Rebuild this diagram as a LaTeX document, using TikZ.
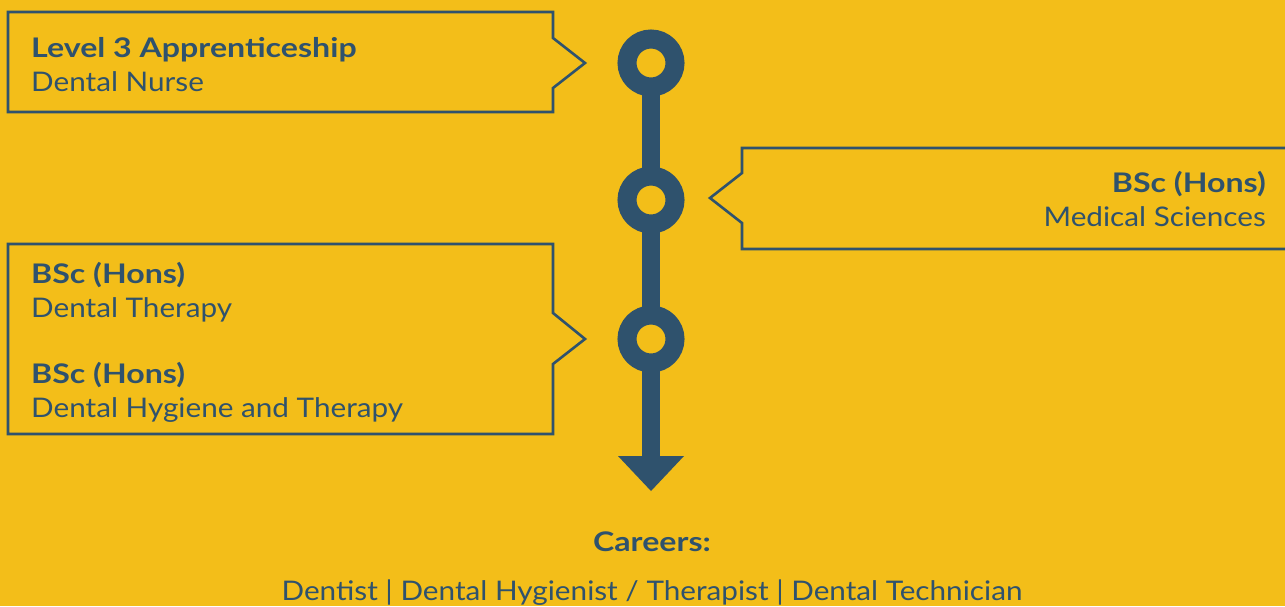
\documentclass[tikz,border=0pt]{standalone}
\usepackage{fontspec}
\setmainfont{Lato}[FakeStretch=1.1,BoldFeatures={FakeStretch=1.19}]
\definecolor{bg}{HTML}{F3BE19}
\definecolor{ink}{HTML}{2F526D}
\begin{document}
\begin{tikzpicture}[x=1pt,y=-1pt,
  boxline/.style={draw=ink,line width=2.6pt},
  ttl/.style={text=ink,font=\fontsize{27}{32}\selectfont\bfseries,inner sep=0pt},
  sub/.style={text=ink,font=\fontsize{27}{32}\selectfont,inner sep=0pt},
  ring/.style={draw=ink,line width=19pt,fill=bg},
  stem/.style={draw=ink,line width=18pt}]
\fill[bg] (0,0) rectangle (1285,606);
\useasboundingbox (0,0) rectangle (1285,606);
% boxes
\draw[boxline] (8,12) -- (553,12) -- (553,38) -- (585,63) -- (553,88) -- (553,112) -- (8,112) -- cycle;
\draw[boxline] (1290,148) -- (742,148) -- (742,173) -- (710,198) -- (742,223) -- (742,249) -- (1290,249);
\draw[boxline] (8,244) -- (553,244) -- (553,313) -- (585,339) -- (553,364) -- (553,434) -- (8,434) -- cycle;
% timeline
\coordinate (c1) at (651,63);
\coordinate (c2) at (651,200);
\coordinate (c3) at (651,339);
\coordinate (tip) at (651,491);
\draw[stem] (c1) -- (651,458);
\fill[ink] (618,456) -- (684,456) -- (tip) -- cycle;
\foreach \c in {c1,c2,c3} \draw[ring] (\c) circle (24pt);
% texts
\node[ttl,anchor=base west] (t1) at (31,57) {Level 3 Apprenticeship};
\node[sub,anchor=base west] (s1) at (31,91) {Dental Nurse};
\node[ttl,anchor=base east] (t2) at (1266,192) {BSc (Hons)};
\node[sub,anchor=base east] (s2) at (1266,226) {Medical Sciences};
\node[ttl,anchor=base west] (t3) at (31,283) {BSc (Hons)};
\node[sub,anchor=base west] (s3) at (31,317) {Dental Therapy};
\node[ttl,anchor=base west] (t4) at (31,383) {BSc (Hons)};
\node[sub,anchor=base west] (s4) at (31,417) {Dental Hygiene and Therapy};
\node[ttl,anchor=base] (t5) at (652,551) {Careers:};
\node[sub,anchor=base] (s5) at (652,600) {Dentist | Dental Hygienist / Therapist | Dental Technician};
\end{tikzpicture}
\end{document}
